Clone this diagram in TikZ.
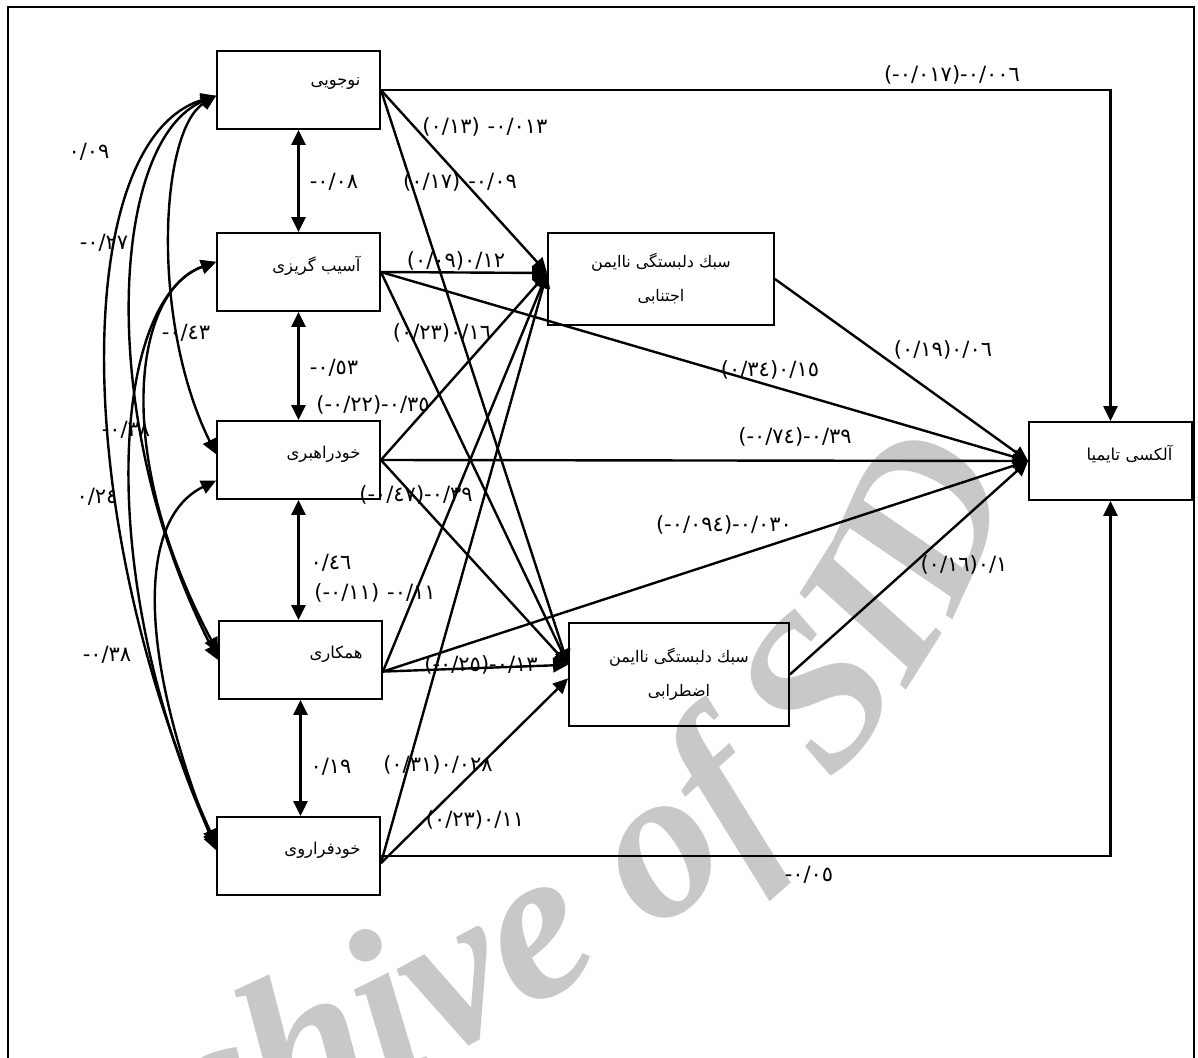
\documentclass[tikz,border=0pt]{standalone}
\usepackage{fontspec}
\usetikzlibrary{arrows.meta, decorations.text}
\TeXXeTstate=1
\newfontfamily\arabicfont[Script=Arabic]{DejaVu Sans}
\newfontfamily\numfont{DejaVu Sans}
\newfontfamily\wmfont{Liberation Serif}
\definecolor{wmgray}{RGB}{200,200,200}

\begin{document}
\begin{tikzpicture}[x=0.5pt, y=-0.5pt,
    sidebox/.style={rectangle, draw=black, line width=0.9pt, minimum width=81.5pt, minimum height=39pt, inner sep=0pt, text width=62pt, align=right, font=\arabicfont\fontsize{8.2}{10}\selectfont},
    midbox/.style={rectangle, draw=black, line width=0.9pt, minimum width=113pt, minimum height=46pt, inner sep=0pt, align=center, font=\arabicfont\fontsize{8}{10}\selectfont},
    lbl/.style={inner sep=0pt, font=\numfont\fontsize{10.5}{12}\selectfont},
    path/.style={line width=1.2pt, -{Triangle[length=7.5pt, width=7pt]}},
    corr/.style={line width=1.2pt, {Triangle[length=7.5pt, width=7pt]}-{Triangle[length=7.5pt, width=7pt]}}
]
\useasboundingbox (0,0) rectangle (1198,1058);

% watermark
\path[decorate, decoration={text along path, text align=right,
    text={|\wmfont\bfseries\itshape\fontsize{108}{108}\selectfont\color{wmgray}|Archive of SID}}]
    (-300,1360) .. controls (520,1070) and (870,880) .. (1015,475);

% frame
\draw[line width=0.8pt] (8,1075) -- (8,7) -- (1194,7) -- (1194,1075);

% Predictors
\node[sidebox] (nov) at (298.5,90) {\raisebox{8pt}{\beginR نوجویی\endR}};
\node[sidebox] (asib) at (298.5,272) {\raisebox{8pt}{\beginR آسیب گریزی\endR}};
\node[sidebox] (khodrah) at (298.5,460) {\raisebox{8pt}{\beginR خودراهبری\endR}};
\node[sidebox] (hamk) at (300.5,660) {\raisebox{8pt}{\beginR همکاری\endR}};
\node[sidebox] (khodfar) at (298.5,856) {\raisebox{8pt}{\beginR خودفراروی\endR}};

% Attachment styles
\node[midbox] (ejt) at (661,279) {\beginR سبك دلبستگی ناایمن\endR\\[7pt]\beginR اجتنابی\endR};
\node[midbox, minimum width=110pt, minimum height=51.5pt] (ezt) at (679,674.5) {\beginR سبك دلبستگی ناایمن\endR\\[7pt]\beginR اضطرابی\endR};

% Outcome
\node[sidebox] (alex) at (1110.5,461) {\raisebox{8pt}{\beginR آلکسی تایمیا\endR}};

% Correlations
\draw[corr] (nov) -- (asib);
\draw[corr] (asib) -- (khodrah);
\draw[corr] (khodrah.south) -- (khodrah.south |- hamk.north);
\draw[corr] (hamk.south) -- (hamk.south |- khodfar.north);
\draw[corr] (nov.184) .. controls (70,140) and (70,520) .. (khodfar.172);
\draw[corr] (nov.184) .. controls (110,140) and (95,420) .. (hamk.west);
\draw[corr] (nov.184) .. controls (160,130) and (150,320) .. (khodrah.176);
\draw[corr] (asib.173) .. controls (135,290) and (110,450) .. (hamk.175);
\draw[corr] (asib.173) .. controls (110,300) and (95,580) .. (khodfar.174);
\draw[corr] (khodrah.194) .. controls (135,520) and (140,660) .. (khodfar.176);

% Paths
\draw[path] (nov.east) -| (alex.north);
\draw[path] (nov.east) -- (ejt.177);
\draw[path] (nov.east) -- (ezt.175);
\draw[path] (asib.east) -- (ejt.177);
\draw[path] (asib.east) -- (alex.west);
\draw[path] (asib.east) -- (ezt.175);
\draw[path] (khodrah.east) -- (ejt.177);
\draw[path] (khodrah.east) -- (alex.west);
\draw[path] (khodrah.east) -- (ezt.175);
\draw[path] (hamk.352) -- (ejt.177);
\draw[path] (hamk.352) -- (ezt.175);
\draw[path] (hamk.352) -- (alex.west);
\draw[path] (khodfar.355) -- (ejt.177);
\draw[path] (khodfar.355) -- (ezt.182);
\draw[path] (khodfar.east) -| (alex.south);
\draw[path] (ejt.east) -- (alex.west);
\draw[path] (ezt.east) -- (alex.west);

% Correlation labels
\node[lbl] (c-nov-khodfar) at (89,152) {٠/٠٩};
\node[lbl] (c-nov-hamk) at (104,243) {-٠/٢٧};
\node[lbl] (c-nov-khodrah) at (186,333) {-٠/٤٣};
\node[lbl] (c-asib-hamk) at (126,430) {-٠/٣٨};
\node[lbl] (c-asib-khodfar) at (97,497) {٠/٢٤};
\node[lbl] (c-khodrah-khodfar) at (107,655) {-٠/٣٨};
\node[lbl] (c-nov-asib) at (334,182) {-٠/٠٨};
\node[lbl] (c-asib-khodrah) at (334,368) {-٠/٥٣};
\node[lbl] (c-khodrah-hamk) at (331,563) {٠/٤٦};
\node[lbl] (c-hamk-khodfar) at (331,767) {٠/١٩};

% Path labels
\node[lbl] (p-nov-alex) at (952,75) {(-٠/٠١٧)-٠/٠٠٦};
\node[lbl] (p-nov-ejt) at (485,127) {(٠/١٣)\kern4pt-٠/٠١٣};
\node[lbl] (p-nov-ezt) at (460,182) {(٠/١٧)\kern4pt-٠/٠٩};
\node[lbl] (p-asib-ejt) at (456,261) {(٠/٠٩)٠/١٢};
\node[lbl] (p-asib-ezt) at (442,333) {(٠/٢٣)٠/١٦};
\node[lbl] (p-khodrah-ejt) at (373,405) {(-٠/٢٢)-٠/٣٥};
\node[lbl] (p-asib-alex) at (770,370) {(٠/٣٤)٠/١٥};
\node[lbl] (p-ejt-alex) at (943,350) {(٠/١٩)٠/٠٦};
\node[lbl] (p-khodrah-alex) at (795,437) {(-٠/٧٤)-٠/٣٩};
\node[lbl] (p-khodrah-ezt) at (416,495) {(-٠/٤٧)-٠/٣٩};
\node[lbl] (p-hamk-alex) at (724,525) {(-٠/٠٩٤)-٠/٠٣٠};
\node[lbl] (p-hamk-ejt) at (375,593) {(-٠/١١)\kern4pt-٠/١١};
\node[lbl] (p-ezt-alex) at (964,565) {(٠/١٦)٠/١};
\node[lbl] (p-hamk-ezt) at (481,665) {(-٠/٢٥)-٠/١٣};
\node[lbl] (p-khodfar-ejt) at (438,765) {(٠/٣١)٠/٠٢٨};
\node[lbl] (p-khodfar-ezt) at (475,820) {(٠/٢٣)٠/١١};
\node[lbl] (p-khodfar-alex) at (809,875) {-٠/٠٥};

\end{tikzpicture}
\end{document}
